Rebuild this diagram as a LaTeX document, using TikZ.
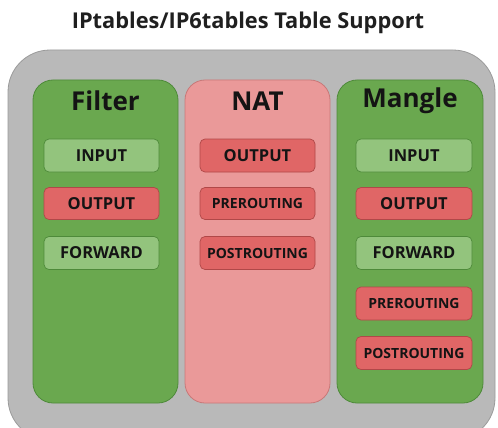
\documentclass[tikz,border=0pt]{standalone}
\usepackage{fontspec}
\setmainfont{Open Sans}
\definecolor{outerfill}{HTML}{B9B9B9}
\definecolor{outerline}{HTML}{9A9A9A}
\definecolor{greenpanel}{HTML}{6AA84F}
\definecolor{greenline}{HTML}{4E8A3A}
\definecolor{lightgreen}{HTML}{93C47D}
\definecolor{redbox}{HTML}{E06666}
\definecolor{redline}{HTML}{B04848}
\definecolor{natpanel}{HTML}{EA9999}
\definecolor{natline}{HTML}{C87878}
\tikzset{
  panel/.style={rounded corners=20pt, line width=0.8pt},
  chain/.style={rounded corners=5pt, line width=0.7pt, inner sep=0pt,
    font=\bfseries\fontsize{16.5}{17}\selectfont, text=black!92},
  okchain/.style={chain, fill=lightgreen, draw=greenline},
  nochain/.style={chain, fill=redbox, draw=redline},
  small/.style={font=\bfseries\fontsize{14}{15}\selectfont},
  ptitle/.style={font=\bfseries\fontsize{26}{27}\selectfont, text=black!92}
}
\begin{document}
\begin{tikzpicture}[x=1pt,y=-1pt]
\useasboundingbox (0,0) rectangle (498,428);
% heading
\node[font=\bfseries\fontsize{21.8}{23}\selectfont, text=black!88] (title) at (248,23) {IPtables/IP6tables Table Support};
% outer container
\draw[fill=outerfill, draw=outerline, line width=0.8pt, rounded corners=42pt] (8,50) rectangle (495,440);
% table panels
\draw[panel, fill=greenpanel, draw=greenline] (33,80) rectangle (178,403);
\draw[panel, fill=natpanel, draw=natline] (185,80) rectangle (330,403);
\draw[panel, fill=greenpanel, draw=greenline] (337,80) rectangle (483,403);
\node[ptitle] (filter) at (105.5,101) {Filter};
\node[ptitle] (nat) at (257.5,101) {NAT};
\node[ptitle] (mangle) at (410,101) {Mangle};
% filter chains
\node[okchain, minimum width=115pt, minimum height=33pt] (fin) at (101.5,155.5) {INPUT};
\node[nochain, minimum width=115pt, minimum height=32pt] (fout) at (101.5,203.5) {OUTPUT};
\node[okchain, minimum width=115pt, minimum height=33pt] (ffwd) at (101.5,253) {FORWARD};
% nat chains
\node[nochain, minimum width=115pt, minimum height=33pt] (nout) at (257.5,155.5) {OUTPUT};
\node[nochain, small, minimum width=115pt, minimum height=32pt] (npre) at (257.5,203.5) {PREROUTING};
\node[nochain, small, minimum width=115pt, minimum height=33pt] (npost) at (257.5,253) {POSTROUTING};
% mangle chains
\node[okchain, minimum width=116pt, minimum height=33pt] (min) at (414,155.5) {INPUT};
\node[nochain, minimum width=116pt, minimum height=32pt] (mout) at (414,203.5) {OUTPUT};
\node[okchain, minimum width=116pt, minimum height=33pt] (mfwd) at (414,253) {FORWARD};
\node[nochain, small, minimum width=116pt, minimum height=33pt] (mpre) at (414,303.5) {PREROUTING};
\node[nochain, small, minimum width=116pt, minimum height=33pt] (mpost) at (414,353) {POSTROUTING};
\end{tikzpicture}
\end{document}
